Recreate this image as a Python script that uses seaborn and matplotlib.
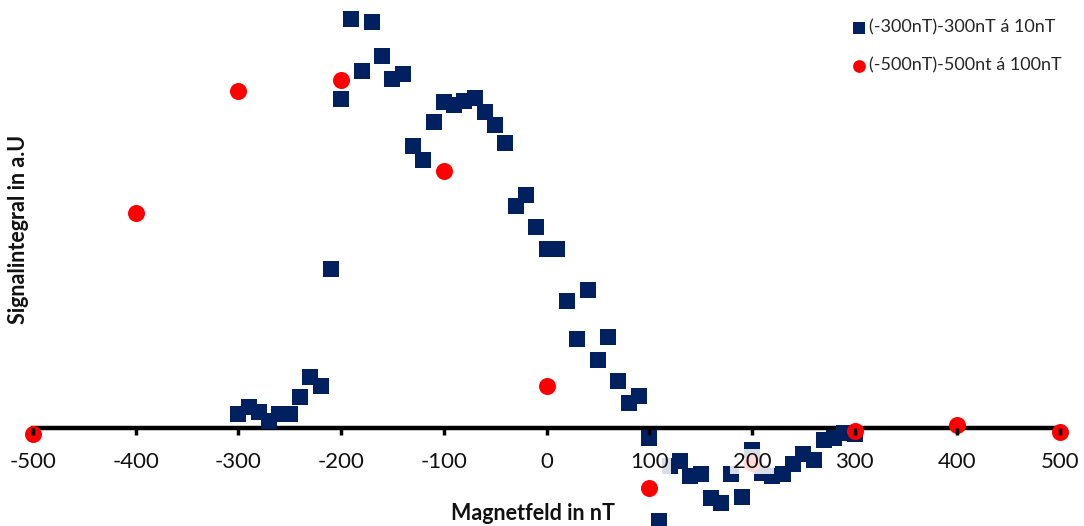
import matplotlib
matplotlib.use("Agg")
import matplotlib.pyplot as plt
import seaborn as sns
import pandas as pd

# ---- data (arbitrary signal units) ----
fine_x = [-300, -290, -280, -270, -260, -250, -240, -230, -220, -210,
          -200, -190, -180, -170, -160, -150, -140, -130, -120, -110,
          -100, -90, -80, -70, -60, -50, -40, -30, -20, -10,
          0, 10, 20, 30, 40, 50, 60, 70, 80, 90,
          100, 110, 120, 130, 140, 150, 160, 170, 180, 190,
          200, 210, 220, 230, 240, 250, 260, 270, 280, 290, 300]
fine_y = [14.5, 21.5, 16.5, 7.5, 14.5, 14.5, 31.5, 51.5, 42.5, 159.5,
          329.5, 409.5, 357.5, 406.5, 372.5, 349.5, 354.5, 282.5, 268.5, 306.5,
          326.5, 323.5, 327.5, 330.5, 316.5, 303.5, 285.5, 222.5, 233.5, 201.5,
          179.5, 179.5, 127.5, 89.5, 138.5, 68.5, 91.5, 47.5, 25.5, 32.5,
          -9.5, -92.5, -37.5, -32.5, -47.5, -45.5, -69.5, -74.5, -45.5, -68.5,
          -21.5, -45.0, -47.5, -45.5, -35.5, -25.5, -31.5, -11.5, -9.5, -4.5, -6.0]
coarse_x = [-500, -400, -300, -200, -100, 0, 100, 200, 300, 400, 500]
coarse_y = [-6.3, 215.3, 336.7, 348.0, 257.3, 42.5, -60.3, -35.0, -2.7, 2.7, -3.7]

fine_label = "(-300nT)-300nT á 10nT"
coarse_label = "(-500nT)-500nt á 100nT"
x_ticks = [-500, -400, -300, -200, -100, 0, 100, 200, 300, 400, 500]
x_title = "Magnetfeld in nT"
y_title = "Signalintegral in a.U"

sns.set_theme(style="white")
plt.rcParams["font.family"] = ["Lato", "DejaVu Sans"]

fig = plt.figure(figsize=(10.84, 5.26), dpi=100)
ax = fig.add_axes([33 / 1084, 0, 1027 / 1084, 1])

df_fine = pd.DataFrame({"x": fine_x, "y": fine_y})
df_coarse = pd.DataFrame({"x": coarse_x, "y": coarse_y})

sns.scatterplot(data=df_fine, x="x", y="y", ax=ax, marker="s", s=117,
                color="#002060", linewidth=0, label=fine_label, zorder=3,
                clip_on=False)
sns.scatterplot(data=df_coarse, x="x", y="y", ax=ax, marker="o", s=150,
                color="#FF0000", linewidth=0, label=coarse_label, zorder=3,
                clip_on=False)

ax.set_xlim(-500, 500)
ax.set_ylim(-98, 428)

for side in ["left", "right", "top"]:
    ax.spines[side].set_visible(False)
ax.spines["bottom"].set_position(("data", 0))
ax.spines["bottom"].set_linewidth(3.2)
ax.spines["bottom"].set_color("black")
ax.spines["bottom"].set_zorder(2)

ax.set_yticks([])
ax.set_xticks(x_ticks)
ax.set_xticklabels([str(v) for v in x_ticks])
ax.tick_params(axis="x", direction="out", length=5, width=2.5, color="black",
               pad=12, labelsize=16, labelcolor="#111111", bottom=True)
ax.xaxis.set_zorder(4)
for lab in ax.get_xticklabels():
    lab.set_bbox(dict(facecolor="white", edgecolor="none", alpha=0.85, pad=2))

ax.set_xlabel(x_title, fontsize=15.5, fontweight="bold", color="#111111")
ax.xaxis.set_label_coords((533 - 33) / 1027, (526 - 514) / 526)
ax.xaxis.label.set_verticalalignment("center")
ax.set_ylabel(y_title, fontsize=15.5, fontweight="bold", color="#111111")
ax.yaxis.set_label_coords((19 - 33) / 1027, (526 - 229) / 526)
ax.yaxis.label.set_verticalalignment("center")

leg = ax.legend(loc="upper left", bbox_to_anchor=((837 - 33) / 1027, (526 - 7) / 526),
                frameon=False, fontsize=13, handletextpad=0.1,
                handlelength=1.0, labelspacing=1.2, markerscale=0.75,
                borderaxespad=0.3)

fig.savefig("out.png", dpi=100)
